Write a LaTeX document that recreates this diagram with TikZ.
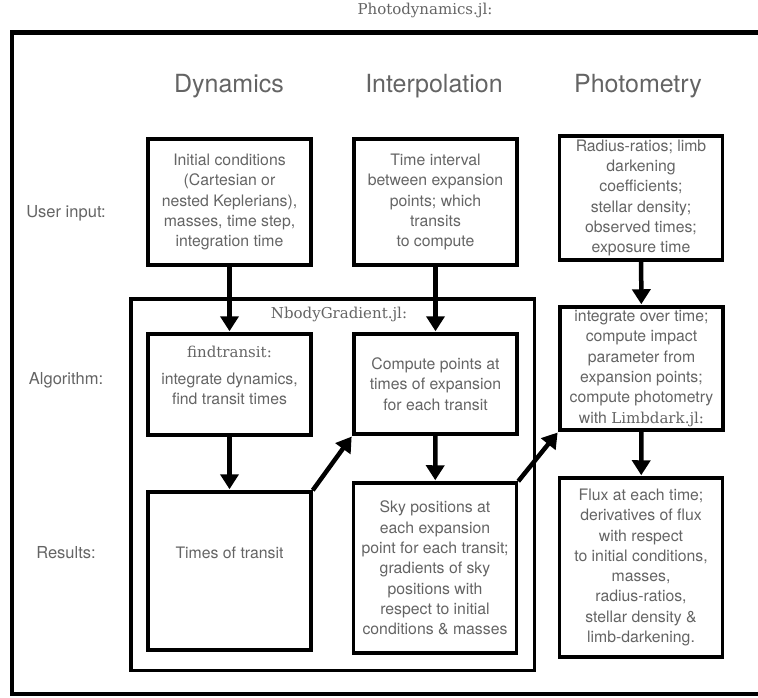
\documentclass[tikz,border=0pt]{standalone}
\usepackage{fontspec}
\setmainfont{TeX Gyre Heros}
\newfontfamily\slabfont{DejaVu Serif}
\newcommand{\slab}[1]{{\slabfont\fontsize{15}{18}\selectfont #1}}
\usetikzlibrary{arrows.meta}
\definecolor{txtgray}{RGB}{100,100,100}

\begin{document}
\begin{tikzpicture}[x=1pt,y=-1pt,
  boxtext/.style={text=txtgray, align=center, font=\fontsize{15.8}{20.3}\selectfont},
  box/.style={draw, line width=3.5pt, boxtext, inner sep=1pt, minimum width=163pt},
  heading/.style={text=txtgray, font=\fontsize{25}{30}\selectfont},
  rowlabel/.style={text=txtgray, font=\fontsize{16.5}{20}\selectfont},
  flow/.style={line width=4.5pt, -{Triangle[width=18pt,length=15pt]}, shorten >=1pt}]
\clip (0,0) rectangle (758,697);
\draw[line width=4.5pt] (12,32.5) rectangle (790,694);
\node[text=txtgray] (title) at (425,10) {\slab{Photodynamics.jl:}};

\node[heading] (dyn) at (229,86) {Dynamics};
\node[heading] (interp) at (434,86) {Interpolation};
\node[heading] (phot) at (638,86) {Photometry};

\node[rowlabel] (user) at (66,213) {User input:};
\node[rowlabel] (algo) at (66,380) {Algorithm:};
\node[rowlabel] (res) at (66,553) {Results:};

% NbodyGradient.jl frame
\draw[line width=3.5pt] (131,299) rectangle (534.5,670.5);
\node[text=txtgray] (nbody) at (339,314) {\slab{NbodyGradient.jl:}};

\node[box, minimum height=126pt] (1) at (229.5,202) {Initial conditions\\(Cartesian or\\nested Keplerians),\\masses, time step,\\integration time};
\node[box, minimum height=126pt] (2) at (435.5,202) {Time interval\\between expansion\\points; which\\transits\\to compute};
\node[box, minimum height=124pt] (3) at (641,198) {Radius-ratios; limb\\darkening\\coefficients;\\stellar density;\\observed times;\\exposure time};
\node[box, minimum height=101pt,
  label={[boxtext, yshift=9pt]center:{\slab{findtransit:}\\[7pt]integrate dynamics,\\find transit times}}] (4) at (229.5,384.5) {};
\node[box, minimum height=100pt] (5) at (435.5,384) {Compute points at\\times of expansion\\for each transit};
\node[box, minimum height=123pt] (6) at (641.5,368.5) {integrate over time;\\compute impact\\parameter from\\expansion points;\\compute photometry\\with \slab{Limbdark.jl:}};
\node[box, minimum height=158pt,
  label={[boxtext, yshift=18pt]center:Times of transit}] (7) at (229.5,571) {};
\node[box, minimum height=170pt] (8) at (435,568) {Sky positions at\\each expansion\\point for each transit;\\gradients of sky\\positions with\\respect to initial\\conditions \& masses};
\node[box, minimum height=179pt] (9) at (641,567.5) {Flux at each time;\\derivatives of flux\\with respect\\to initial conditions,\\masses,\\radius-ratios,\\stellar density \&\\limb-darkening.};

\path[draw,flow] (1) -- (4);
\path[draw,flow] (2) -- (5);
\path[draw,flow] (3) -- (6);
\path[draw,flow] (4) -- (7);
\path[draw,flow] (5) -- (8);
\path[draw,flow] (6) -- (9);
\path[draw,flow] (7.north east) -- (5.south west);
\path[draw,flow] (8.north east) -- (6.south west);
\end{tikzpicture}
\end{document}
